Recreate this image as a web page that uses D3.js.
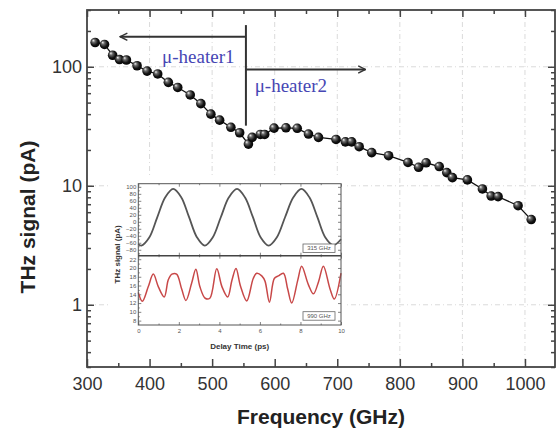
<!DOCTYPE html>
<html>
<head>
<meta charset="utf-8">
<script src="https://cdn.jsdelivr.net/npm/d3@7"></script>
<style>
  body { margin: 0; background: #fff; }
</style>
</head>
<body>
<svg id="chart" width="557" height="430"></svg>
<script>
// main series: THz signal vs frequency
const freq = [313, 328, 341, 352, 363, 380, 396, 413, 430, 445, 465, 482, 498, 512, 530, 544, 558, 564, 577, 584,
  599, 618, 636, 654, 670, 698, 713, 723, 735, 755, 782, 813, 830, 842, 863, 875, 884, 908, 932, 946, 957, 989, 1010];
const signal = [160, 154, 125, 115, 114, 102, 92, 87, 74, 67, 58, 49, 40, 35.6, 31, 27.9, 22.4, 25.5, 27, 27,
  30.5, 30.7, 30.4, 27.2, 25.5, 24.5, 23.4, 23.4, 21.3, 19, 17.9, 15.7, 14.3, 15.6, 14.5, 12.9, 11.7, 11.2, 9.4, 8.2, 8.1, 6.8, 5.2];
const xTickVals = [300, 400, 500, 600, 700, 800, 900, 1000];
const yTickVals = [1, 10, 100];

// inset traces
const delay315 = [0, 0.15, 0.54, 0.93, 1.33, 1.72, 2.11, 2.5, 2.89, 3.28, 3.67, 4.07, 4.47, 4.87, 5.26, 5.65, 6.04,
  6.43, 6.83, 7.24, 7.65, 8.05, 8.44, 8.83, 9.22, 9.62, 10];
const amp315 = [-64, -68, -45, 12, 70, 94, 71, 14, -44, -68, -45, 13, 70, 94, 70, 14, -45,
  -68, -45, 13, 70, 94, 70, 14, -44, -67, -50];
const delay990 = [0, 0.2, 0.49, 0.74, 0.99, 1.28, 1.48, 1.66, 1.89, 2.14, 2.35, 2.63, 2.84, 3.04, 3.3, 3.53, 3.87,
  4.13, 4.41, 4.62, 4.82, 5.04, 5.35, 5.67, 5.84, 6.09, 6.25, 6.47, 6.71, 6.91, 7.16, 7.37, 7.57, 7.87, 8.06, 8.39,
  8.64, 8.9, 9.13, 9.46, 9.67, 10];
const amp990 = [14.4, 12.4, 15.7, 18.6, 15.7, 13.4, 17.3, 18.6, 18.6, 15.2, 12.6, 16.5, 19.7, 15.7, 13.1, 13.1, 19.8,
  15.7, 13.4, 17.2, 19.9, 15.9, 12.5, 17.6, 18.8, 18.2, 17.0, 12.2, 17.6, 18.2, 18.8, 15.2, 12.0, 17.3, 20.4, 16.2,
  14.1, 17.0, 20.4, 15.2, 12.9, 18.8];
const insetXTicks = [0, 2, 4, 6, 8, 10];
const ticks315 = [-80, -60, -40, -20, 0, 20, 40, 60, 80, 100];
const ticks990 = [8, 10, 12, 14, 16, 18, 20, 22];

const svg = d3.select('#chart');
const L = 87, R = 555, T = 10, B = 367;
const x = d3.scaleLinear().domain([300, 1048]).range([L, R]);
const y = d3.scaleLog().domain([0.3, 300]).range([B, T]);

const defs = svg.append('defs');
const grad = defs.append('radialGradient').attr('id', 'ball')
  .attr('cx', '45%').attr('cy', '45%').attr('r', '60%').attr('fx', '30%').attr('fy', '28%');
grad.append('stop').attr('offset', '0%').attr('stop-color', '#f4f4f4');
grad.append('stop').attr('offset', '28%').attr('stop-color', '#6a6a6a');
grad.append('stop').attr('offset', '65%').attr('stop-color', '#141414');
grad.append('stop').attr('offset', '100%').attr('stop-color', '#000');

defs.append('marker').attr('id', 'arrow')
  .attr('viewBox', '0 0 10 10').attr('refX', 9).attr('refY', 5)
  .attr('markerWidth', 9).attr('markerHeight', 9).attr('markerUnits', 'userSpaceOnUse')
  .attr('orient', 'auto')
  .append('path').attr('d', 'M1,1 L9,5 L1,9').attr('fill', 'none').attr('stroke', '#333').attr('stroke-width', 1.6);

// gridlines
const grid = svg.append('g').attr('stroke', '#dadada').attr('stroke-width', 1).attr('stroke-dasharray', '5,3,1,3');
grid.selectAll('.gx').data(xTickVals.slice(1)).enter().append('line')
  .attr('x1', d => x(d)).attr('x2', d => x(d)).attr('y1', T).attr('y2', B);
grid.selectAll('.gy').data(yTickVals).enter().append('line')
  .attr('x1', L).attr('x2', R).attr('y1', d => y(d)).attr('y2', d => y(d));

// heater annotation
const ann = svg.append('g').attr('stroke', '#333').attr('stroke-width', 2).attr('fill', 'none');
ann.append('line').attr('x1', x(554)).attr('x2', x(554)).attr('y1', y(224)).attr('y2', y(32));
ann.append('line').attr('x1', x(554)).attr('x2', x(353)).attr('y1', y(179)).attr('y2', y(179)).attr('marker-end', 'url(#arrow)');
ann.append('line').attr('x1', x(554)).attr('x2', x(745)).attr('y1', y(95)).attr('y2', y(95)).attr('marker-end', 'url(#arrow)');
svg.append('text').attr('x', x(420)).attr('y', y(108)).text('μ-heater1')
  .attr('font-family', 'Liberation Serif, Times New Roman, serif').attr('font-size', 19).attr('fill', '#4646b4');
svg.append('text').attr('x', x(568)).attr('y', y(61)).text('μ-heater2')
  .attr('font-family', 'Liberation Serif, Times New Roman, serif').attr('font-size', 19).attr('fill', '#4646b4');

// data line + spheres
const pts = freq.map((f, i) => ({ f: f, s: signal[i] }));
svg.append('path').datum(pts)
  .attr('d', d3.line().x(d => x(d.f)).y(d => y(d.s)))
  .attr('fill', 'none').attr('stroke', '#111').attr('stroke-width', 1.3);
svg.selectAll('.dot').data(pts).enter().append('circle')
  .attr('class', 'dot')
  .attr('cx', d => x(d.f)).attr('cy', d => y(d.s)).attr('r', 4.8)
  .attr('fill', 'url(#ball)');

// main axes
function styleAxis(g, size) {
  g.select('.domain').remove();
  g.selectAll('line').attr('stroke', '#444').attr('stroke-width', 1.5);
  g.selectAll('text').attr('font-family', 'Arial, Liberation Sans, sans-serif').attr('font-size', size).attr('fill', '#333');
}
const xMinor = d3.range(350, 1048, 100);
const yMinor = y.ticks().filter(v => !yTickVals.includes(v));

// white backing for inset (covers grid)
const iL = 138.3, iR = 341, iT = 183.7, iM = 255.7, iB = 325;
svg.append('rect').attr('x', 110).attr('y', 178).attr('width', 237).attr('height', 188).attr('fill', '#fff');

svg.append('g').attr('transform', `translate(0,${B})`)
  .call(d3.axisBottom(x).tickValues(xTickVals).tickSize(-8).tickSizeOuter(0).tickPadding(10).tickFormat(d3.format('d')))
  .call(g => styleAxis(g, 18));
svg.append('g').attr('transform', `translate(0,${B})`)
  .call(d3.axisBottom(x).tickValues(xMinor).tickSize(-4).tickSizeOuter(0).tickFormat(''))
  .call(g => styleAxis(g, 18));
svg.append('g').attr('transform', `translate(0,${T})`)
  .call(d3.axisTop(x).tickValues(xTickVals).tickSize(-7).tickSizeOuter(0).tickFormat(''))
  .call(g => styleAxis(g, 18));
svg.append('g').attr('transform', `translate(0,${T})`)
  .call(d3.axisTop(x).tickValues(xMinor).tickSize(-4).tickSizeOuter(0).tickFormat(''))
  .call(g => styleAxis(g, 18));
svg.append('g').attr('transform', `translate(${L},0)`)
  .call(d3.axisLeft(y).tickValues(yTickVals).tickSize(-7).tickSizeOuter(0).tickPadding(5).tickFormat(d3.format('d')))
  .call(g => styleAxis(g, 18));
svg.append('g').attr('transform', `translate(${L},0)`)
  .call(d3.axisLeft(y).tickValues(yMinor).tickSize(-4).tickSizeOuter(0).tickFormat(''))
  .call(g => styleAxis(g, 18));
svg.append('g').attr('transform', `translate(${R},0)`)
  .call(d3.axisRight(y).tickValues(yTickVals).tickSize(-7).tickSizeOuter(0).tickFormat(''))
  .call(g => styleAxis(g, 18));
svg.append('g').attr('transform', `translate(${R},0)`)
  .call(d3.axisRight(y).tickValues(yMinor).tickSize(-4).tickSizeOuter(0).tickFormat(''))
  .call(g => styleAxis(g, 18));
svg.append('rect').attr('x', L).attr('y', T).attr('width', R - L).attr('height', B - T)
  .attr('fill', 'none').attr('stroke', '#444').attr('stroke-width', 1.8);

svg.append('text').attr('x', 321).attr('y', 424).attr('text-anchor', 'middle')
  .attr('font-family', 'Arial, Liberation Sans, sans-serif').attr('font-weight', 'bold').attr('font-size', 21).attr('fill', '#222')
  .text('Frequency (GHz)');
svg.append('text').attr('transform', 'translate(28,217) rotate(-90)').attr('text-anchor', 'middle').attr('dy', '0.35em')
  .attr('font-family', 'Arial, Liberation Sans, sans-serif').attr('font-weight', 'bold').attr('font-size', 21).attr('fill', '#222')
  .text('THz signal (pA)');

// ---- inset ----
const xi = d3.scaleLinear().domain([0, 10]).range([iL, iR]);
const yTop = d3.scaleLinear().domain([-97, 109]).range([iM, iT]);
const yBot = d3.scaleLinear().domain([7, 22.8]).range([iB, iM]);
const inset = svg.append('g');

function styleInset(g) {
  g.select('.domain').remove();
  g.selectAll('line').attr('stroke', '#666').attr('stroke-width', 0.8);
  g.selectAll('text').attr('font-family', 'Arial, Liberation Sans, sans-serif').attr('font-size', 6).attr('fill', '#555');
}
const xiMinor = d3.range(1, 10, 2);
// x ticks on each panel edge
[[iT, d3.axisTop, -3], [iM, d3.axisBottom, -3], [iM, d3.axisTop, -3], [iB, d3.axisBottom, -3]].forEach(([yy, axf, sz]) => {
  inset.append('g').attr('transform', `translate(0,${yy})`)
    .call(axf(xi).tickValues(insetXTicks).tickSize(sz).tickSizeOuter(0).tickFormat(''))
    .call(styleInset);
  inset.append('g').attr('transform', `translate(0,${yy})`)
    .call(axf(xi).tickValues(xiMinor).tickSize(sz + 1.5).tickSizeOuter(0).tickFormat(''))
    .call(styleInset);
});
inset.append('g').attr('transform', `translate(0,${iB})`)
  .call(d3.axisBottom(xi).tickValues(insetXTicks).tickSize(0).tickPadding(4))
  .call(styleInset);

const top10 = d3.range(-90, 101, 20);
const bot10 = d3.range(9, 23, 2);
inset.append('g').attr('transform', `translate(${iL},0)`)
  .call(d3.axisLeft(yTop).tickValues(ticks315).tickSize(-3).tickSizeOuter(0).tickPadding(2))
  .call(styleInset);
inset.append('g').attr('transform', `translate(${iL},0)`)
  .call(d3.axisLeft(yTop).tickValues(top10).tickSize(-1.5).tickSizeOuter(0).tickFormat(''))
  .call(styleInset);
inset.append('g').attr('transform', `translate(${iR},0)`)
  .call(d3.axisRight(yTop).tickValues(ticks315).tickSize(-3).tickSizeOuter(0).tickFormat(''))
  .call(styleInset);
inset.append('g').attr('transform', `translate(${iL},0)`)
  .call(d3.axisLeft(yBot).tickValues(ticks990).tickSize(-3).tickSizeOuter(0).tickPadding(2))
  .call(styleInset);
inset.append('g').attr('transform', `translate(${iL},0)`)
  .call(d3.axisLeft(yBot).tickValues(bot10).tickSize(-1.5).tickSizeOuter(0).tickFormat(''))
  .call(styleInset);
inset.append('g').attr('transform', `translate(${iR},0)`)
  .call(d3.axisRight(yBot).tickValues(ticks990).tickSize(-3).tickSizeOuter(0).tickFormat(''))
  .call(styleInset);

// traces
const tr315 = delay315.map((t, i) => ({ t: t, v: amp315[i] }));
const tr990 = delay990.map((t, i) => ({ t: t, v: amp990[i] }));
inset.append('path').datum(tr315)
  .attr('d', d3.line().curve(d3.curveCatmullRom).x(d => xi(d.t)).y(d => yTop(d.v)))
  .attr('fill', 'none').attr('stroke', '#555').attr('stroke-width', 1.8);
inset.append('path').datum(tr990)
  .attr('d', d3.line().curve(d3.curveCatmullRom).x(d => xi(d.t)).y(d => yBot(d.v)))
  .attr('fill', 'none').attr('stroke', '#c84848').attr('stroke-width', 1.5);

// frames
inset.append('rect').attr('x', iL).attr('y', iT).attr('width', iR - iL).attr('height', iB - iT)
  .attr('fill', 'none').attr('stroke', '#555').attr('stroke-width', 1);
inset.append('line').attr('x1', iL).attr('x2', iR).attr('y1', iM).attr('y2', iM)
  .attr('stroke', '#444').attr('stroke-width', 1.4);

// labels boxes
[['315 GHz', 244], ['990 GHz', 311.7]].forEach(([lbl, by]) => {
  inset.append('rect').attr('x', 303).attr('y', by).attr('width', 32).attr('height', 8.5)
    .attr('fill', '#fff').attr('stroke', '#666').attr('stroke-width', 0.8);
  inset.append('text').attr('x', 319).attr('y', by + 6.3).attr('text-anchor', 'middle')
    .attr('font-family', 'Arial, Liberation Sans, sans-serif').attr('font-size', 6).attr('fill', '#555').text(lbl);
});

inset.append('text').attr('x', (iL + iR) / 2).attr('y', 349).attr('text-anchor', 'middle')
  .attr('font-family', 'Arial, Liberation Sans, sans-serif').attr('font-weight', 'bold').attr('font-size', 8).attr('fill', '#333')
  .text('Delay Time (ps)');
inset.append('text').attr('transform', `translate(117,${(iT + iB) / 2}) rotate(-90)`).attr('text-anchor', 'middle').attr('dy', '0.35em')
  .attr('font-family', 'Arial, Liberation Sans, sans-serif').attr('font-weight', 'bold').attr('font-size', 8).attr('fill', '#333')
  .text('THz signal (pA)');
</script>
</body>
</html>
